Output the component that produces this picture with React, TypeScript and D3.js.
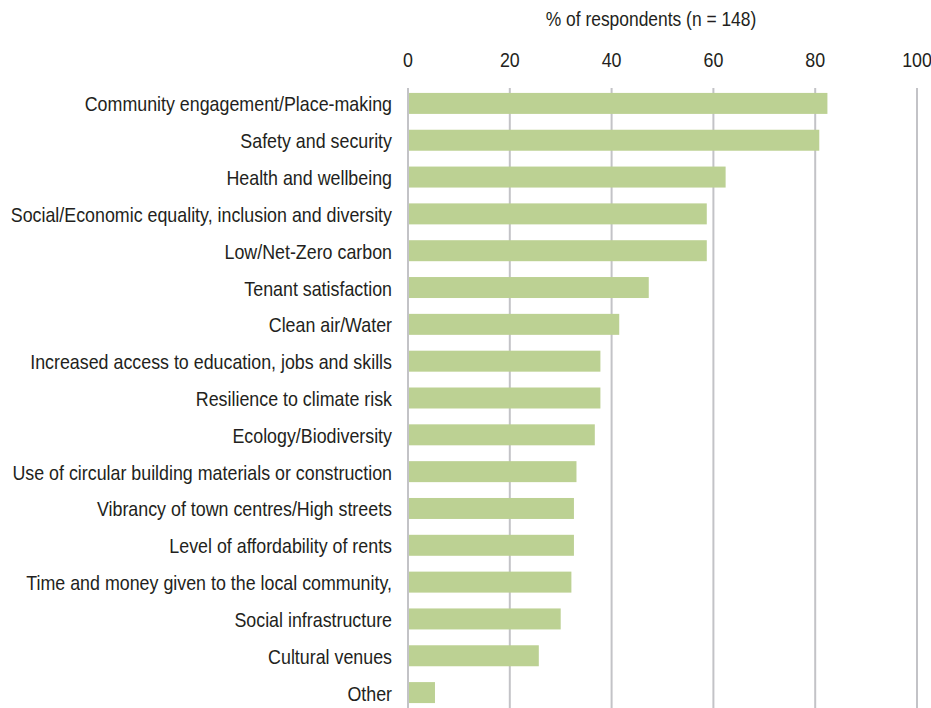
import React from "react";
import * as d3 from "d3";

const categories = [
  "Community engagement/Place-making",
  "Safety and security",
  "Health and wellbeing",
  "Social/Economic equality, inclusion and diversity",
  "Low/Net-Zero carbon",
  "Tenant satisfaction",
  "Clean air/Water",
  "Increased access to education, jobs and skills",
  "Resilience to climate risk",
  "Ecology/Biodiversity",
  "Use of circular building materials or construction",
  "Vibrancy of town centres/High streets",
  "Level of affordability of rents",
  "Time and money given to the local community,",
  "Social infrastructure",
  "Cultural venues",
  "Other",
];
const values = [82.4, 80.8, 62.4, 58.7, 58.7, 47.3, 41.5, 37.8, 37.8, 36.7, 33.1, 32.6, 32.6, 32.1, 30.0, 25.7, 5.3];
const ticks = [0, 20, 40, 60, 80, 100];
const axisTitle = "% of respondents (n = 148)";

const FONT = "'Liberation Sans', Arial, sans-serif";
const SX = 0.85;

function Narrow({ x, y, anchor, size, children, dy }: { x: number; y: number; anchor: string; size: number; children: React.ReactNode; dy?: string }) {
  return (
    <g transform={`translate(${x},${y}) scale(${SX},1)`}>
      <text x={0} y={0} dy={dy} textAnchor={anchor as any} fontFamily={FONT} fontSize={size} fill="#231f20">{children}</text>
    </g>
  );
}

export default function App() {
  const W = 931, H = 708;
  const x = d3.scaleLinear().domain([0, 100]).range([408, 917]);
  const y = d3.scaleBand<string>().domain(categories).range([85, 711]).paddingInner(0.43).paddingOuter(0.215);
  return (
    <svg width={W} height={H} style={{ position: "absolute", left: 0, top: 0, background: "#fff" }}>
      <Narrow x={651} y={26} anchor="middle" size={20.5}>{axisTitle}</Narrow>
      {ticks.map((t) => (
        <g key={t}>
          <line x1={x(t)} x2={x(t)} y1={88} y2={H} stroke="#c3c3c7" strokeWidth={2} />
          <Narrow x={x(t)} y={67} anchor="middle" size={21}>{t}</Narrow>
        </g>
      ))}
      {categories.map((c, i) => (
        <g key={c}>
          <rect x={x(0) + 1} y={y(c)!} width={x(values[i]) - x(0) - 1} height={y.bandwidth()} fill="#bcd193" />
          <Narrow x={392} y={y(c)! + y.bandwidth() / 2} dy="0.38em" anchor="end" size={21}>{c}</Narrow>
        </g>
      ))}
    </svg>
  );
}
